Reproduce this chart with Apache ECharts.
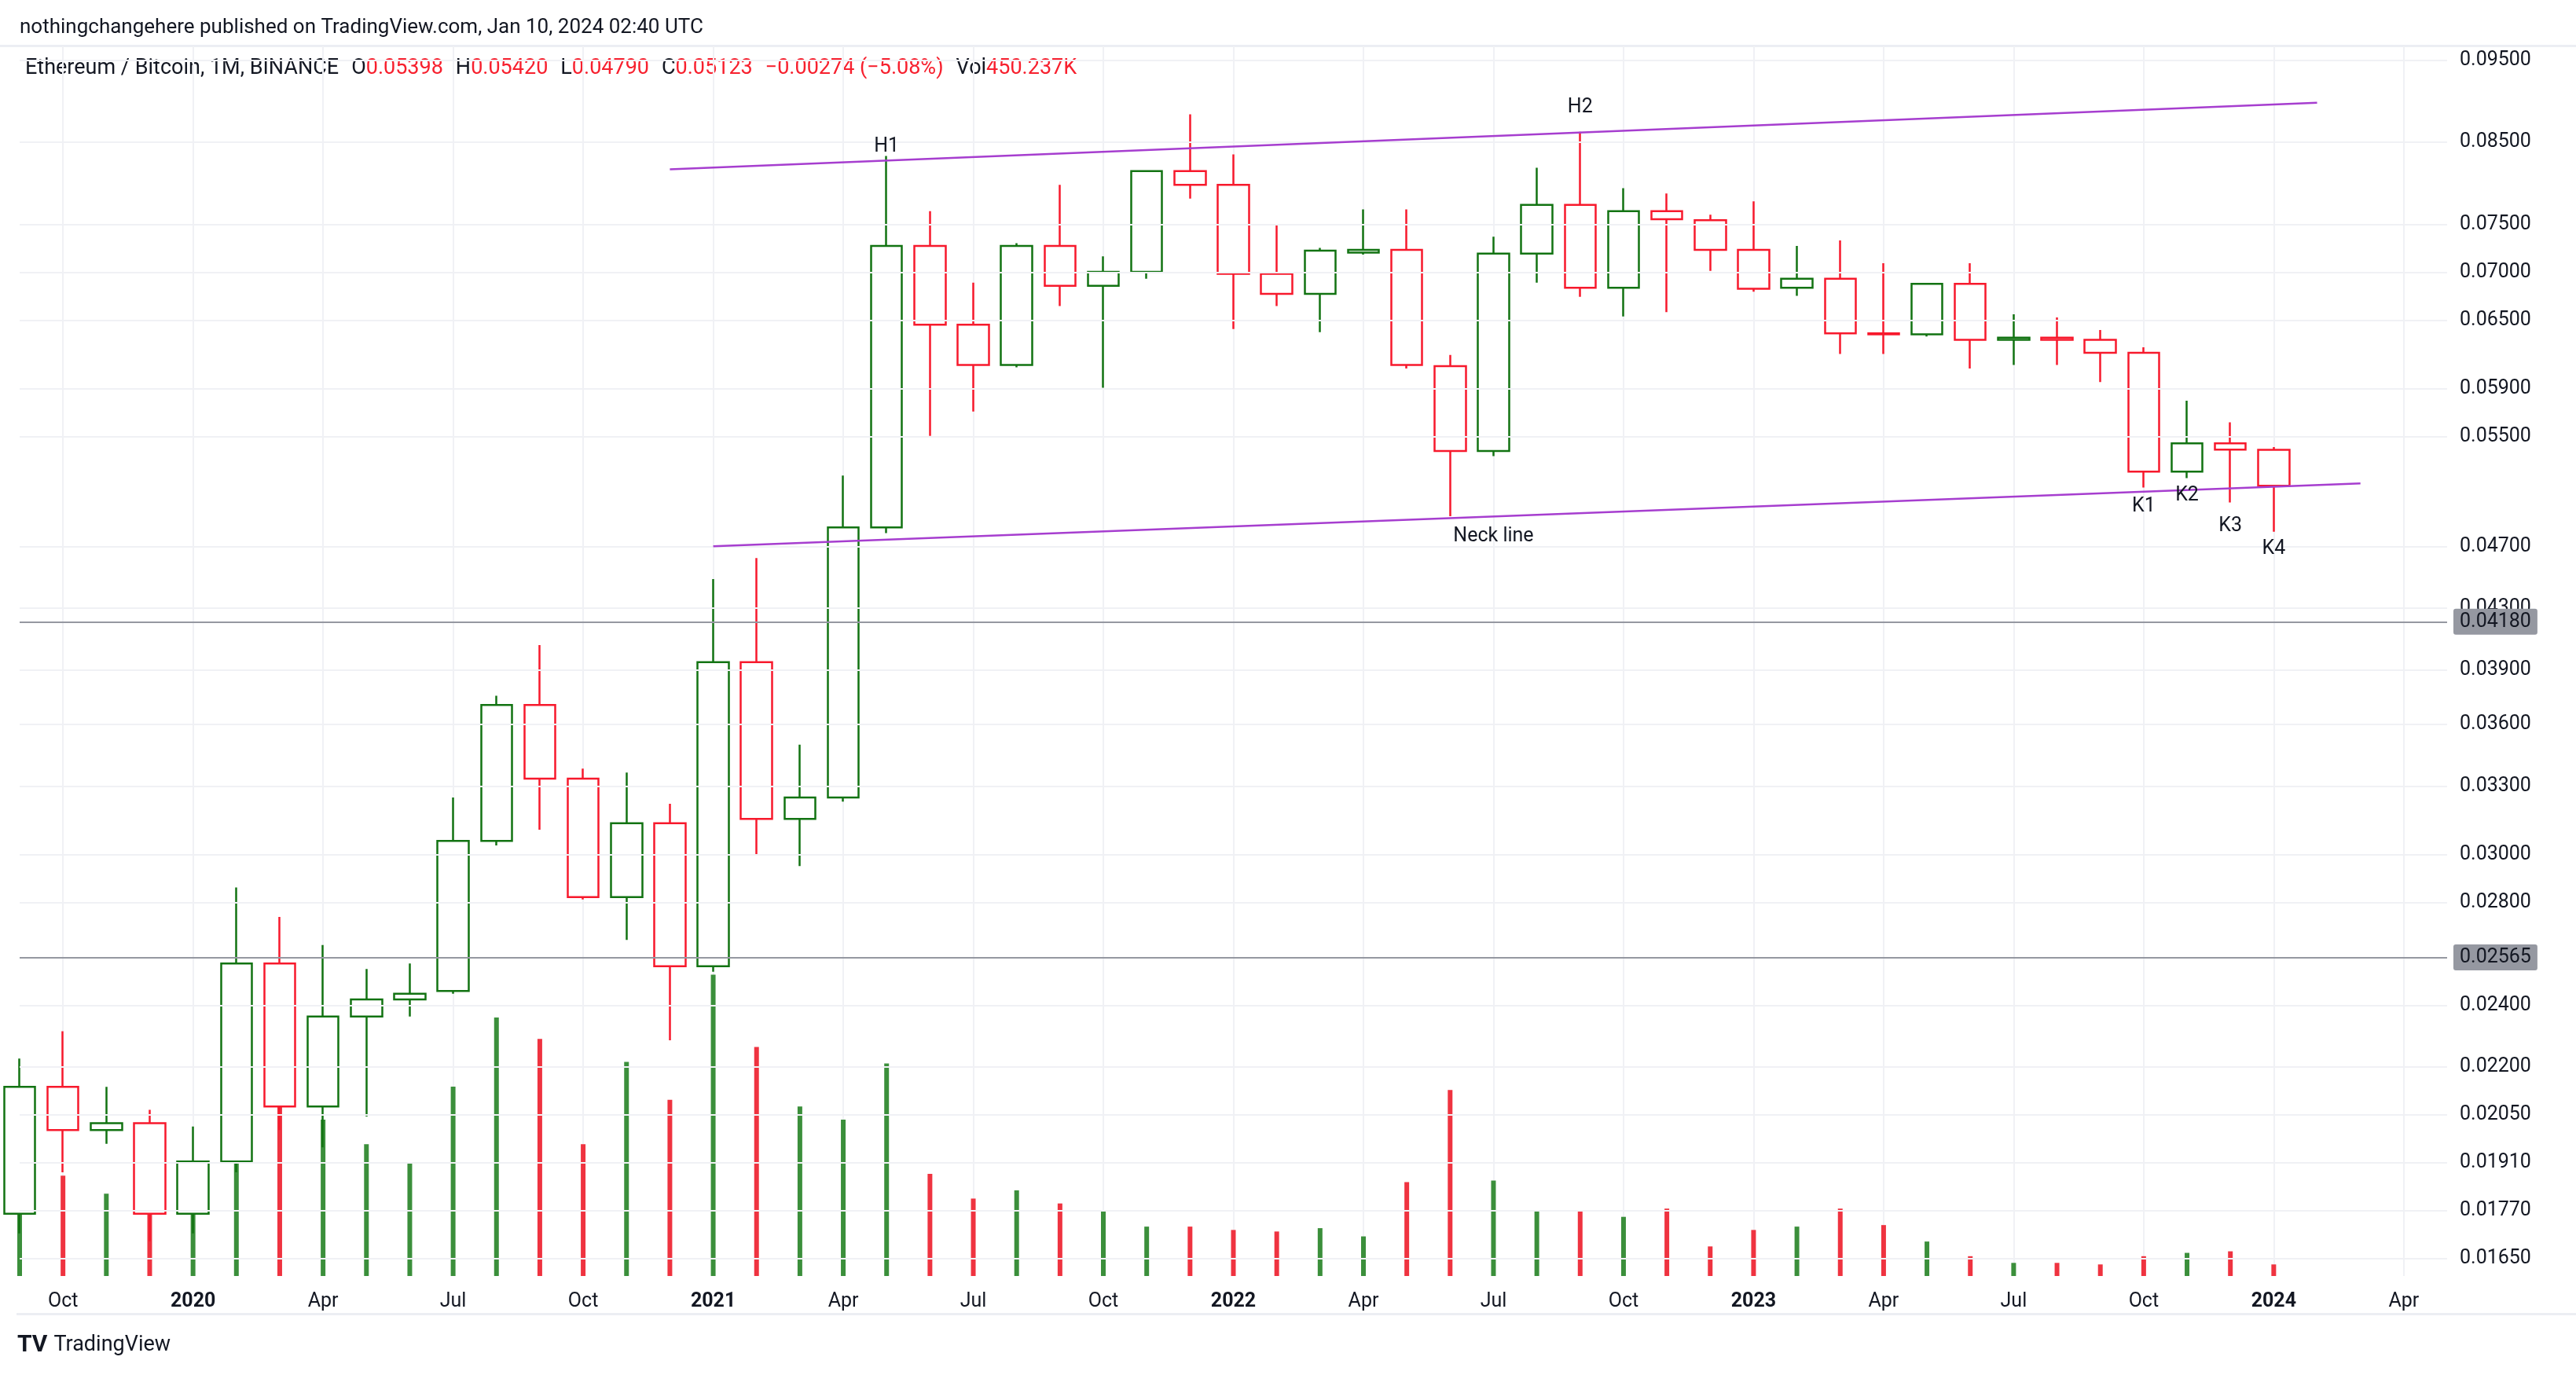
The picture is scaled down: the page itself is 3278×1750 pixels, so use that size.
<!DOCTYPE html>
<html>
<head>
<meta charset="utf-8">
<script src="https://cdn.jsdelivr.net/npm/echarts@6/dist/echarts.min.js"></script>
<style>
  html, body { margin: 0; padding: 0; background: #fff; }
  #chart { width: 3278px; height: 1750px; }
</style>
</head>
<body>
<div id="chart"></div>
<script>
// monthly ETH/BTC, Sep 2019 .. Jan 2024
const opens  = [0.0177,0.0213,0.0200,0.0202,0.0177,0.0191,0.0255,0.0207,0.0236,0.0242,0.0245,0.0305,0.0372,0.0334,0.0281,0.0313,0.0254,0.0396,0.0315,0.0325,0.0482,0.0727,0.0648,0.0611,0.0727,0.0686,0.0700,0.0811,0.0795,0.0698,0.0678,0.0720,0.0723,0.0610,0.0539,0.0719,0.0772,0.0684,0.0765,0.0755,0.0723,0.0684,0.0693,0.0640,0.0639,0.0688,0.0634,0.0636,0.0634,0.0622,0.0523,0.0545,0.05398];
const highs  = [0.0222,0.0231,0.0213,0.0206,0.0201,0.0285,0.0273,0.0262,0.0253,0.0255,0.0325,0.0377,0.0406,0.0339,0.0337,0.0322,0.0447,0.0461,0.0351,0.0520,0.0829,0.0765,0.0689,0.0730,0.0795,0.0716,0.0811,0.0881,0.0831,0.0749,0.0725,0.0767,0.0767,0.0620,0.0737,0.0815,0.0859,0.0791,0.0785,0.0761,0.0776,0.0727,0.0733,0.0709,0.0688,0.0709,0.0658,0.0655,0.0643,0.0627,0.0580,0.0562,0.05420];
const lows   = [0.0172,0.0188,0.0196,0.0170,0.0172,0.0188,0.0200,0.0195,0.0204,0.0236,0.0244,0.0303,0.0310,0.0280,0.0264,0.0228,0.0252,0.0299,0.0294,0.0323,0.0478,0.0551,0.0571,0.0609,0.0666,0.0591,0.0693,0.0779,0.0644,0.0666,0.0641,0.0718,0.0608,0.0490,0.0535,0.0689,0.0675,0.0656,0.0660,0.0701,0.0680,0.0676,0.0621,0.0621,0.0637,0.0608,0.0611,0.0611,0.0596,0.0511,0.0518,0.0500,0.04790];
const closes = [0.0213,0.0200,0.0202,0.0177,0.0191,0.0255,0.0207,0.0236,0.0242,0.0244,0.0305,0.0372,0.0334,0.0281,0.0313,0.0254,0.0396,0.0315,0.0325,0.0482,0.0727,0.0648,0.0611,0.0727,0.0686,0.0700,0.0811,0.0795,0.0698,0.0678,0.0722,0.0723,0.0611,0.0539,0.0719,0.0772,0.0684,0.0765,0.0756,0.0723,0.0683,0.0693,0.0640,0.0639,0.0688,0.0634,0.0636,0.0634,0.0622,0.0523,0.0545,0.0540,0.05123];
const volumes = [4160,3900,3200,2690,3260,5440,7550,6080,5120,4420,7360,10050,9220,5120,8320,6850,11710,8900,6590,6080,8260,3970,3010,3330,2820,2560,1920,1920,1790,1730,1860,1540,3650,7230,3710,2560,2560,2300,2620,1150,1790,1920,2620,1980,1340,770,510,510,450,770,900,960,450];
const priceTicks = [0.095,0.085,0.075,0.070,0.065,0.059,0.055,0.047,0.043,0.039,0.036,0.033,0.030,0.028,0.024,0.022,0.0205,0.0191,0.0177,0.0165];
const levels = [0.0418, 0.02565];
const lastPrice = 0.05123;
const topLine = [['2020-12', 0.0813], ['2024-02', 0.0896]];
const neckLine = [['2021-01', 0.0469], ['2024-03', 0.0514]];
const notes = [['H1','2021-05',0.0840],['H2','2022-09',0.0890],['Neck line','2022-07',0.0476],['K1','2023-10',0.0497],['K2','2023-11',0.0505],['K3','2023-12',0.0483],['K4','2024-01',0.0467]];

const months = [];
for (let i = 0; i < 57; i++) {
  const d = new Date(2019, 8 + i, 1);
  months.push(d.getFullYear() + '-' + String(d.getMonth() + 1).padStart(2, '0'));
}
const L = Math.log;
const mnames = ['Jan','Feb','Mar','Apr','May','Jun','Jul','Aug','Sep','Oct','Nov','Dec'];
const isQuarter = (i) => { const m = +months[i].slice(5); return m % 3 === 1; };

const candles = opens.map((o, i) => [L(o), L(closes[i]), L(lows[i]), L(highs[i])]);
const volData = volumes.map((v, i) => ({
  value: v,
  itemStyle: { color: closes[i] >= opens[i] ? '#3b8f3b' : '#ef3340' }
}));

const font = 'Roboto';
const sp = '{s|\u00a0}';
const chart = echarts.init(document.getElementById('chart'));
chart.setOption({
  animation: false,
  textStyle: { fontFamily: font },
  grid: [
    { left: 25, right: 164, top: 59, bottom: 126 },
    { left: 25, right: 164, top: 59, bottom: 126 }
  ],
  xAxis: [
    {
      type: 'category', data: months, boundaryGap: false, gridIndex: 0,
      axisLine: { show: false }, axisTick: { show: false },
      splitLine: { show: true, interval: (i) => isQuarter(i), lineStyle: { color: '#f0f1f5', width: 2 } },
      axisLabel: {
        interval: (i) => isQuarter(i), margin: 20, fontSize: 25, color: '#131722',
        formatter: (v) => {
          const m = +v.slice(5);
          return m === 1 ? '{b|' + v.slice(0, 4) + '}' : mnames[m - 1];
        },
        rich: { b: { fontWeight: 'bold', fontSize: 25, color: '#131722', fontFamily: font } }
      }
    },
    { type: 'category', data: months, boundaryGap: false, gridIndex: 1, show: false }
  ],
  yAxis: [
    { type: 'value', gridIndex: 0, min: L(0.01616), max: L(0.0973), show: false },
    { type: 'value', gridIndex: 1, min: 0, max: 47800, show: false }
  ],
  graphic: [
    { type: 'text', left: 25, top: 22, style: { text: 'nothingchangehere published on TradingView.com, Jan 10, 2024 02:40 UTC', fontSize: 26, fill: '#131722', fontFamily: font } },
    { type: 'rect', shape: { x: 0, y: 57, width: 3278, height: 3 }, style: { fill: '#eceef3' } },
    { type: 'rect', shape: { x: 21, y: 1671, width: 3257, height: 3 }, style: { fill: '#eceef3' } },
    {
      type: 'text', left: 32, top: 74,
      style: {
        text: '{k|Ethereum / Bitcoin, 1M, BINANCE}' + sp + '{k|O}{r|0.05398}' + sp + '{k|H}{r|0.05420}' + sp + '{k|L}{r|0.04790}' + sp +
              '{k|C}{r|0.05123}' + sp + '{r|\u22120.00274 (\u22125.08%)}' + sp + '{k|Vol}{r|450.237K}',
        rich: {
          k: { fontSize: 27, fill: '#131722', fontFamily: font },
          r: { fontSize: 27, fill: '#f7202e', fontFamily: font },
          s: { fontSize: 27, width: 16 }
        }
      }
    },
    {
      type: 'text', left: 22, top: 1697,
      style: {
        text: '{l|TV}{s|\u00a0}{t|TradingView}',
        rich: {
          l: { fontSize: 30, fontWeight: 'bold', fill: '#131722', fontFamily: font },
          t: { fontSize: 27, fill: '#131722', fontFamily: font },
          s: { fontSize: 27, width: 8 }
        }
      }
    }
  ],
  series: [
    {
      type: 'bar', xAxisIndex: 1, yAxisIndex: 1, data: volData, barWidth: 6, z: 1
    },
    {
      type: 'candlestick', xAxisIndex: 0, yAxisIndex: 0, data: candles, barWidth: 40, z: 3, clip: true,
      itemStyle: {
        color: '#ffffff', color0: '#ffffff',
        borderColor: '#127312', borderColor0: '#f7192c', borderWidth: 2.5
      },
      markLine: {
        symbol: 'none', silent: true, animation: false,
        data: [
          ...priceTicks.map(v => ({
            yAxis: L(v),
            lineStyle: { color: '#f0f1f5', width: 2, type: 'solid' },
            label: { position: 'end', distance: 16, formatter: v.toFixed(5), fontSize: 25, color: '#131722', fontFamily: font }
          })),
          ...levels.map(v => ({
            yAxis: L(v),
            lineStyle: { color: '#9598a1', width: 2, type: 'solid' },
            label: { position: 'end', distance: 8, formatter: v.toFixed(5), fontSize: 25, color: '#131722', fontFamily: font,
                     backgroundColor: '#9598a1', padding: [5, 8, 3, 8], borderRadius: 3 }
          })),
          {
            yAxis: L(lastPrice),
            lineStyle: { opacity: 0 },
            label: { position: 'end', distance: 8, formatter: lastPrice.toFixed(5), fontSize: 25, color: '#e01e2e', fontFamily: font,
                     backgroundColor: '#fbd0d3', padding: [5, 8, 3, 8], borderRadius: 3 }
          },
          [
            { coord: [topLine[0][0], L(topLine[0][1])] },
            { coord: [topLine[1][0], L(topLine[1][1])] }
          ].map(p => Object.assign(p, { lineStyle: { color: '#a63ecf', width: 2.5, type: 'solid' }, label: { show: false } })),
          [
            { coord: [neckLine[0][0], L(neckLine[0][1])] },
            { coord: [neckLine[1][0], L(neckLine[1][1])] }
          ].map(p => Object.assign(p, { lineStyle: { color: '#a63ecf', width: 2.5, type: 'solid' }, label: { show: false } }))
        ]
      },
      markPoint: {
        symbolSize: 0, silent: true,
        data: notes.map(n => ({
          coord: [n[1], L(n[2])],
          label: { show: true, formatter: n[0], fontSize: 25, color: '#131722', fontFamily: font, position: 'inside' }
        }))
      }
    }
  ]
});
</script>
</body>
</html>
